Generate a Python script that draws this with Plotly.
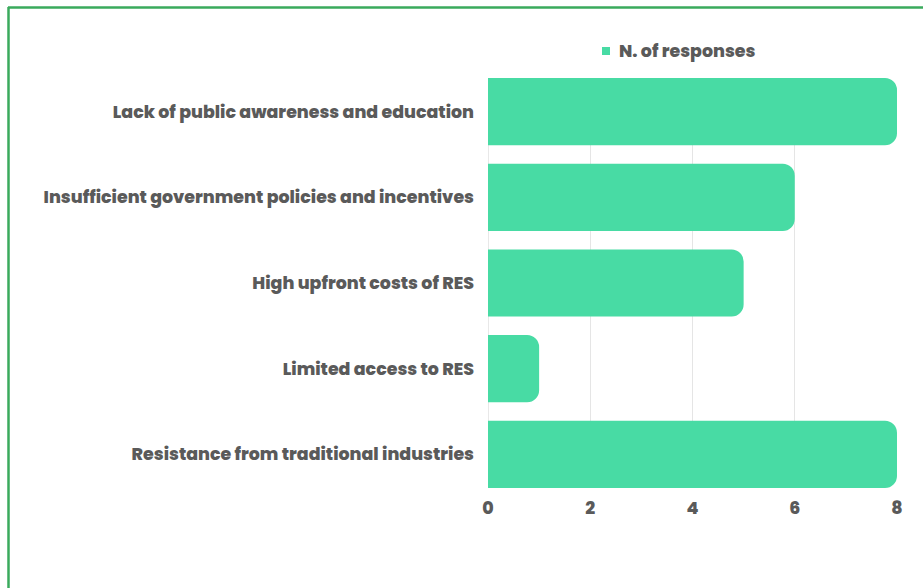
import plotly.graph_objects as go

categories = [
    "Lack of public awareness and education",
    "Insufficient government policies and incentives",
    "High upfront costs of RES",
    "Limited access to RES",
    "Resistance from traditional industries",
]
responses = [8, 6, 5, 1, 8]
x_ticks = [0, 2, 4, 6, 8]
series_name = "N. of responses"

W, H = 923, 588
L, R, T, B = 488, 26, 78, 100
plot_w = W - L - R
plot_h = H - T - B

bar_color = "#48dba4"
bar_w = 0.784
pos = list(range(len(categories)))

fig = go.Figure(
    go.Bar(
        x=responses,
        y=pos,
        orientation="h",
        width=bar_w,
        marker=dict(color=bar_color, line=dict(width=0)),
        name=series_name,
        showlegend=False,
    )
)

def px_to_paper_x(px):
    return (px - L) / plot_w

def px_to_paper_y(py):
    return (H - B - py) / plot_h

# outer green frame (open on the right and bottom)
border = "#3aaa5c"
fig.add_shape(type="line", xref="paper", yref="paper",
              x0=px_to_paper_x(8), x1=px_to_paper_x(W + 5),
              y0=px_to_paper_y(7.5), y1=px_to_paper_y(7.5),
              line=dict(color=border, width=2.5), layer="above")
fig.add_shape(type="line", xref="paper", yref="paper",
              x0=px_to_paper_x(8.5), x1=px_to_paper_x(8.5),
              y0=px_to_paper_y(7), y1=px_to_paper_y(H + 5),
              line=dict(color=border, width=2.5), layer="above")

font_family = "Poppins, Inter, 'Open Sans', sans-serif"
text_color = "#5a5a5a"
label_font = dict(size=17.4, family=font_family, color=text_color, weight=800)

# legend: small square swatch + series name
fig.add_shape(type="rect", xref="paper", yref="paper",
              x0=px_to_paper_x(602), x1=px_to_paper_x(610),
              y0=px_to_paper_y(47), y1=px_to_paper_y(55),
              fillcolor=bar_color, line=dict(width=0), layer="above")
fig.add_annotation(xref="paper", yref="paper",
                   x=px_to_paper_x(617), y=px_to_paper_y(51),
                   xanchor="left", yanchor="middle", showarrow=False,
                   text=series_name, font=label_font)

fig.update_layout(
    width=W,
    height=H,
    margin=dict(l=L, r=R, t=T, b=B, pad=0),
    paper_bgcolor="white",
    plot_bgcolor="white",
    barcornerradius=12,
    font=dict(family=font_family, color=text_color),
    showlegend=False,
    xaxis=dict(
        range=[0, 8],
        tickvals=x_ticks,
        ticktext=[str(v) for v in x_ticks],
        showgrid=True,
        gridcolor="#e5e5e5",
        gridwidth=1,
        zeroline=False,
        showline=False,
        ticks="",
        ticklabelstandoff=8,
        tickfont=label_font,
    ),
    yaxis=dict(
        range=[len(categories) - 1 + bar_w / 2, -bar_w / 2],
        tickvals=pos,
        ticktext=categories,
        showgrid=False,
        zeroline=False,
        showline=False,
        ticks="",
        ticklabelstandoff=13,
        tickfont=label_font,
    ),
)

# left axis line at x = 0
fig.add_shape(type="line", xref="x", yref="paper", x0=0, x1=0, y0=0, y1=1,
              line=dict(color="#e0e0e0", width=1.5), layer="below")

fig.write_html("out.html")
